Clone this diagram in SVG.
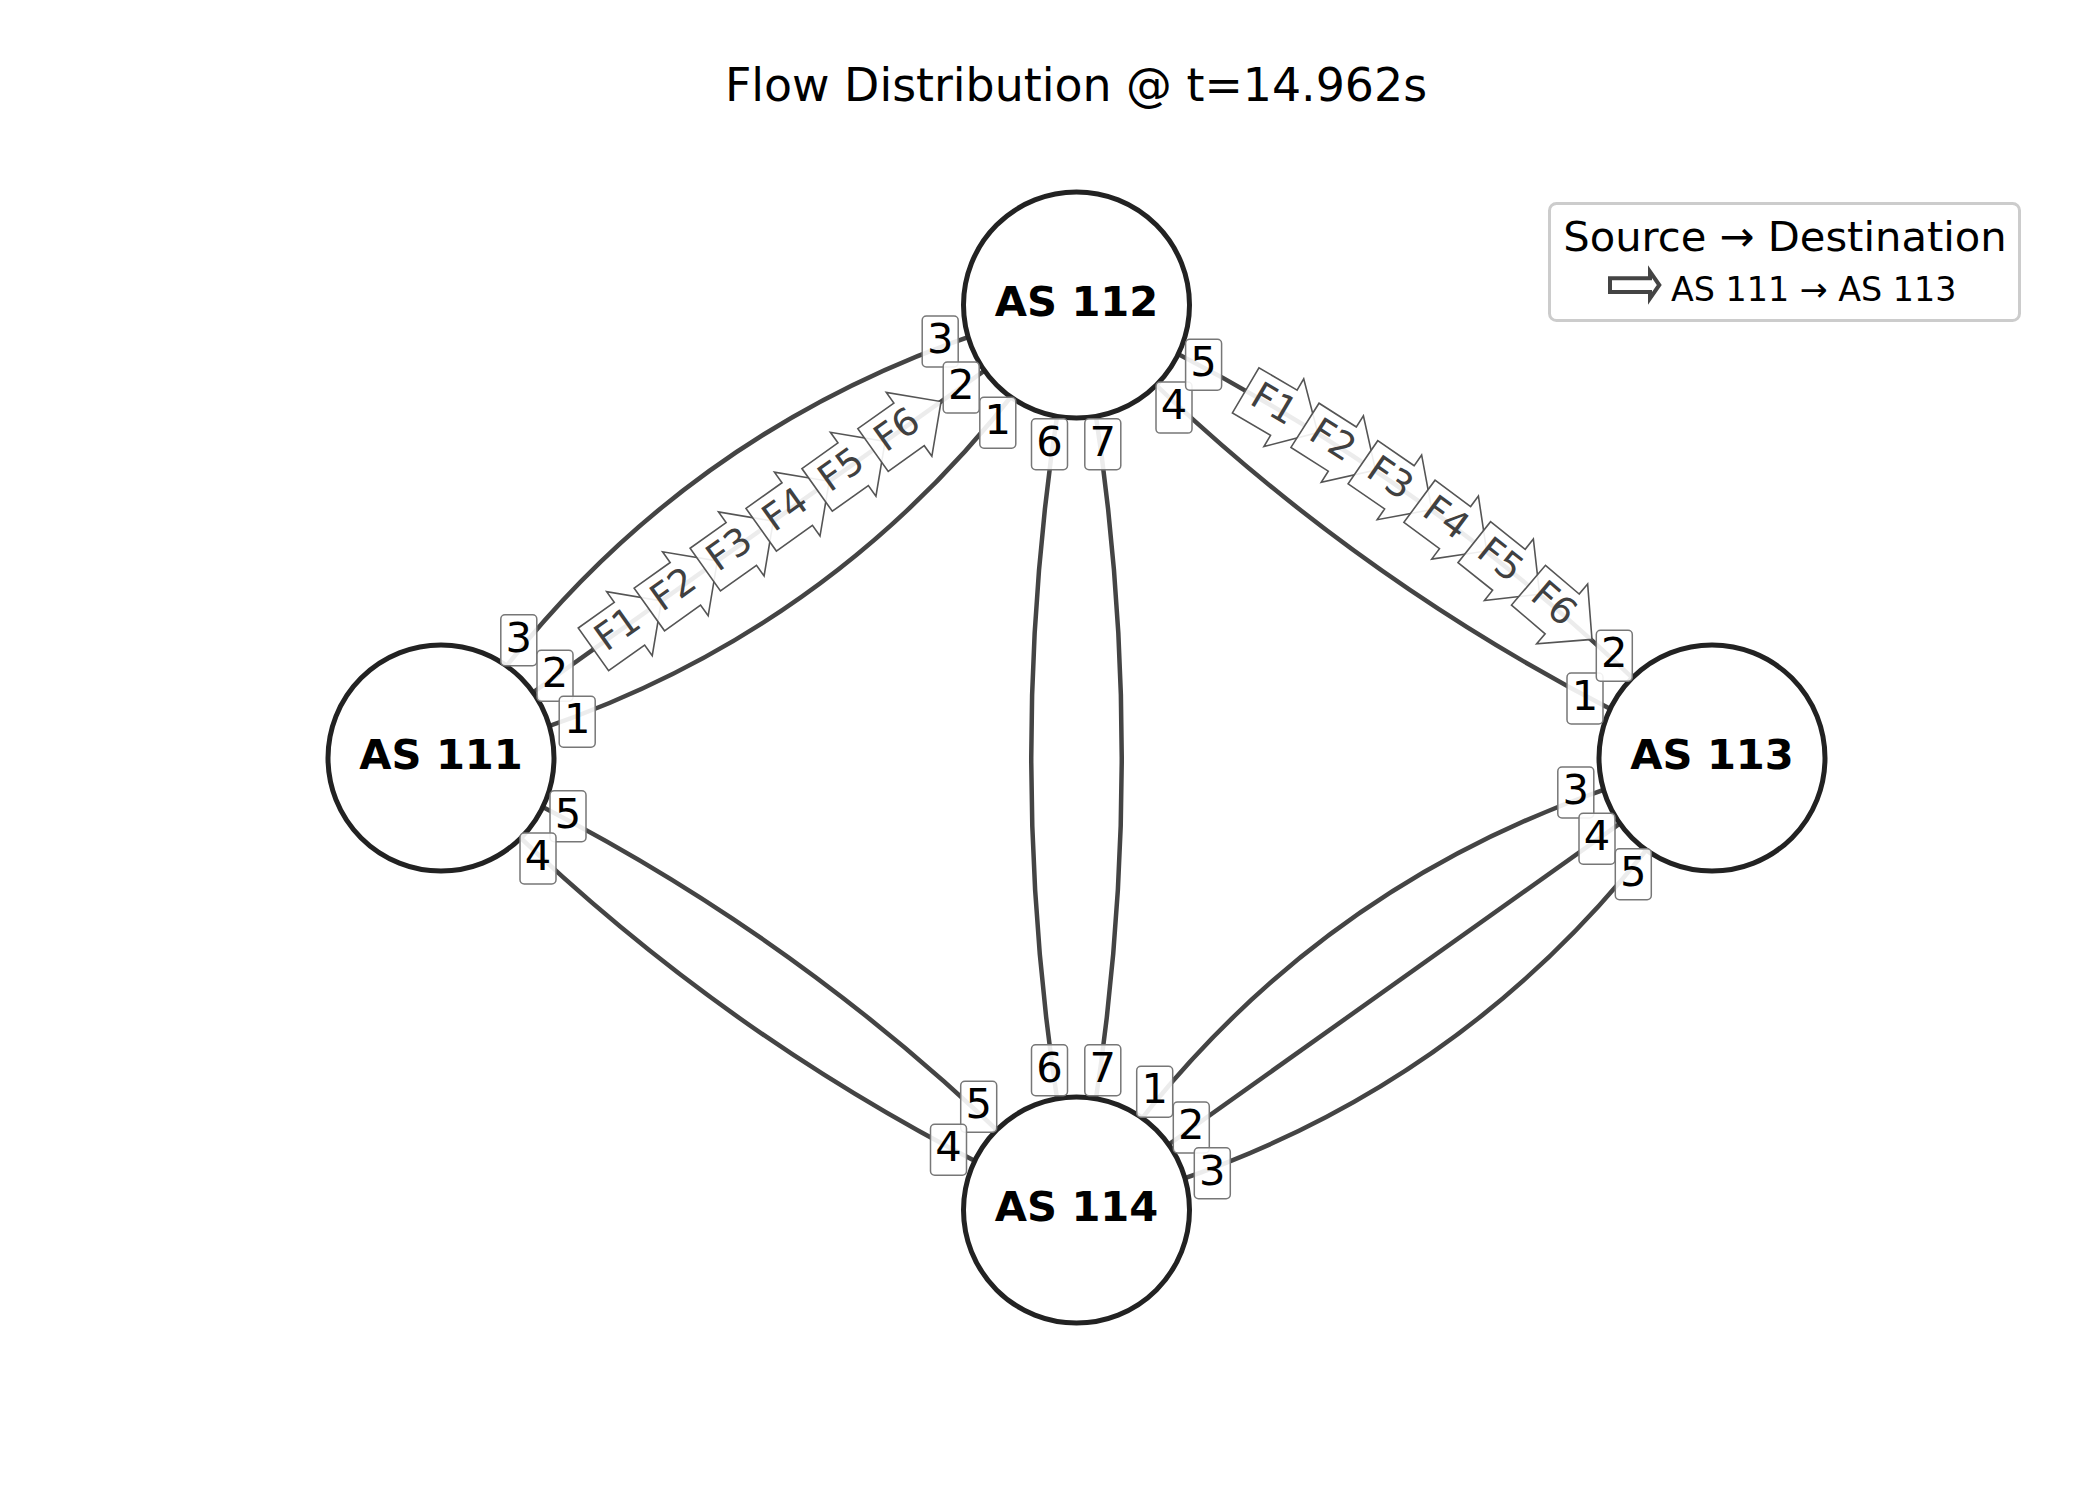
<svg xmlns="http://www.w3.org/2000/svg" width="2100" height="1500" viewBox="0 0 2100 1500">
  <style>
    .edge { fill: none; stroke: #444444; stroke-width: 4.5; stroke-linecap: butt; }
    .node circle { fill: #ffffff; stroke: #222222; stroke-width: 5; }
    .node text { font-family: "DejaVu Sans", "Liberation Sans", sans-serif; font-weight: bold; font-size: 41.67px; fill: #000000; text-anchor: middle; }
    .port text { font-family: "DejaVu Sans", "Liberation Sans", sans-serif; font-size: 41.67px; fill: #000000; text-anchor: middle; }
    .flow text { font-family: "DejaVu Sans", "Liberation Sans", sans-serif; font-size: 37.5px; fill: #404040; text-anchor: middle; }
    .title { font-family: "DejaVu Sans", "Liberation Sans", sans-serif; font-size: 45.83px; fill: #000000; text-anchor: middle; }
    .legend-title { font-family: "DejaVu Sans", "Liberation Sans", sans-serif; font-size: 41.67px; fill: #000000; text-anchor: middle; }
    .legend-text { font-family: "DejaVu Sans", "Liberation Sans", sans-serif; font-size: 33.33px; fill: #000000; }
  </style>
  <defs>
    <!-- right-pointing block arrow around a flow tag -->
    <path id="flowbox" d="M12.9,-26.18 L-31.35,-26.18 L-31.35,26.18 L12.9,26.18 L12.9,39.27 L52.17,0 L12.9,-39.27 Z" fill="#ffffff" fill-opacity="0.9" stroke="#555555" stroke-width="1.6" stroke-linejoin="miter"/>
    <!-- rounded tag behind a port number -->
    <rect id="portbox" x="-18" y="-25.5" width="36" height="51" rx="4.2" ry="4.2" fill="#ffffff" fill-opacity="0.9" stroke="#777777" stroke-width="1.5"/>
  </defs>

  <rect x="0" y="0" width="2100" height="1500" fill="#ffffff"/>

  <text class="title" x="1076" y="101">Flow Distribution @ t=14.962s</text>

  <!-- links between AS nodes -->
  <g id="edges">
    <path class="edge" d="M441,758 Q668.15,404.4 1076.5,305"/>
    <path class="edge" d="M441,758 L1076.5,305"/>
    <path class="edge" d="M441,758 Q849.35,658.6 1076.5,305"/>
    <path class="edge" d="M441,758 Q803.95,920.45 1076.5,1210"/>
    <path class="edge" d="M441,758 Q713.55,1047.55 1076.5,1210"/>
    <path class="edge" d="M1076.5,305 Q986,757.5 1076.5,1210"/>
    <path class="edge" d="M1076.5,305 Q1167,757.5 1076.5,1210"/>
    <path class="edge" d="M1076.5,305 Q1439.55,467.95 1712,758"/>
    <path class="edge" d="M1076.5,305 Q1348.95,595.05 1712,758"/>
    <path class="edge" d="M1712,758 Q1303.85,856.9 1076.5,1210"/>
    <path class="edge" d="M1712,758 L1076.5,1210"/>
    <path class="edge" d="M1712,758 Q1484.65,1111.1 1076.5,1210"/>
  </g>

  <g id="node-as111" class="node">
    <circle cx="441" cy="758" r="113"/>
    <text x="441" y="768.5">AS 111</text>
  </g>
  <g id="node-as112" class="node">
    <circle cx="1076.5" cy="305" r="113"/>
    <text x="1076.5" y="315.5">AS 112</text>
  </g>
  <g id="node-as113" class="node">
    <circle cx="1712" cy="758" r="113"/>
    <text x="1712" y="768.5">AS 113</text>
  </g>
  <g id="node-as114" class="node">
    <circle cx="1076.5" cy="1210" r="113"/>
    <text x="1076.5" y="1220.5">AS 114</text>
  </g>

  <!-- flows AS 111 -> AS 112 -> AS 113 -->
  <g id="flows">
    <g class="flow" transform="translate(618.94,631.16) rotate(-35.48)"><use href="#flowbox"/><text y="9.8">F1</text></g>
    <g class="flow" transform="translate(674.86,591.30) rotate(-35.48)"><use href="#flowbox"/><text y="9.8">F2</text></g>
    <g class="flow" transform="translate(730.79,551.43) rotate(-35.48)"><use href="#flowbox"/><text y="9.8">F3</text></g>
    <g class="flow" transform="translate(786.71,511.57) rotate(-35.48)"><use href="#flowbox"/><text y="9.8">F4</text></g>
    <g class="flow" transform="translate(842.64,471.70) rotate(-35.48)"><use href="#flowbox"/><text y="9.8">F5</text></g>
    <g class="flow" transform="translate(898.56,431.84) rotate(-35.48)"><use href="#flowbox"/><text y="9.8">F6</text></g>

    <g class="flow" transform="translate(1272.7,406.2) rotate(30.45)"><use href="#flowbox"/><text y="9.8">F1</text></g>
    <g class="flow" transform="translate(1331.44,442.14) rotate(32.46)"><use href="#flowbox"/><text y="9.8">F2</text></g>
    <g class="flow" transform="translate(1388.77,480.04) rotate(34.47)"><use href="#flowbox"/><text y="9.8">F3</text></g>
    <g class="flow" transform="translate(1444.68,519.9) rotate(36.49)"><use href="#flowbox"/><text y="9.8">F4</text></g>
    <g class="flow" transform="translate(1498.8,561.73) rotate(38.5)"><use href="#flowbox"/><text y="9.8">F5</text></g>
    <g class="flow" transform="translate(1552.33,605.54) rotate(40.5)"><use href="#flowbox"/><text y="9.8">F6</text></g>
  </g>

  <!-- port numbers at each end of every link -->
  <g id="ports">
    <g class="port" transform="translate(518.8,640.3)"><use href="#portbox"/><text y="11.5">3</text></g>
    <g class="port" transform="translate(555,675.8)"><use href="#portbox"/><text y="11.5">2</text></g>
    <g class="port" transform="translate(577.2,721.7)"><use href="#portbox"/><text y="11.5">1</text></g>
    <g class="port" transform="translate(568,816.3)"><use href="#portbox"/><text y="11.5">5</text></g>
    <g class="port" transform="translate(538,858.5)"><use href="#portbox"/><text y="11.5">4</text></g>

    <g class="port" transform="translate(940.2,341.5)"><use href="#portbox"/><text y="11.5">3</text></g>
    <g class="port" transform="translate(961.2,387.6)"><use href="#portbox"/><text y="11.5">2</text></g>
    <g class="port" transform="translate(997.8,422.8)"><use href="#portbox"/><text y="11.5">1</text></g>
    <g class="port" transform="translate(1049.5,444.2)"><use href="#portbox"/><text y="11.5">6</text></g>
    <g class="port" transform="translate(1102.8,444.2)"><use href="#portbox"/><text y="11.5">7</text></g>
    <g class="port" transform="translate(1174,407.6)"><use href="#portbox"/><text y="11.5">4</text></g>
    <g class="port" transform="translate(1203.6,364.8)"><use href="#portbox"/><text y="11.5">5</text></g>

    <g class="port" transform="translate(1585,698.5)"><use href="#portbox"/><text y="11.5">1</text></g>
    <g class="port" transform="translate(1614.3,655.8)"><use href="#portbox"/><text y="11.5">2</text></g>
    <g class="port" transform="translate(1575.8,792.5)"><use href="#portbox"/><text y="11.5">3</text></g>
    <g class="port" transform="translate(1597,838.8)"><use href="#portbox"/><text y="11.5">4</text></g>
    <g class="port" transform="translate(1633.3,874.2)"><use href="#portbox"/><text y="11.5">5</text></g>

    <g class="port" transform="translate(978.7,1106.8)"><use href="#portbox"/><text y="11.5">5</text></g>
    <g class="port" transform="translate(948.5,1149.8)"><use href="#portbox"/><text y="11.5">4</text></g>
    <g class="port" transform="translate(1049.5,1070.2)"><use href="#portbox"/><text y="11.5">6</text></g>
    <g class="port" transform="translate(1102.8,1070.2)"><use href="#portbox"/><text y="11.5">7</text></g>
    <g class="port" transform="translate(1154.7,1091.8)"><use href="#portbox"/><text y="11.5">1</text></g>
    <g class="port" transform="translate(1191.3,1127.5)"><use href="#portbox"/><text y="11.5">2</text></g>
    <g class="port" transform="translate(1212.3,1173.2)"><use href="#portbox"/><text y="11.5">3</text></g>
  </g>

  <!-- legend -->
  <g id="legend">
    <rect x="1549.5" y="203.5" width="470" height="117" rx="7" ry="7" fill="#ffffff" stroke="#cccccc" stroke-width="3"/>
    <text class="legend-title" x="1785" y="250.5">Source → Destination</text>
    <path d="M1610,278.3 L1650,278.3 L1650,271.7 L1659.3,285 L1650,298.3 L1650,292 L1610,292 Z" fill="#ffffff" stroke="#444444" stroke-width="4" stroke-linejoin="miter"/>
    <text class="legend-text" x="1671" y="301">AS 111 → AS 113</text>
  </g>
</svg>
